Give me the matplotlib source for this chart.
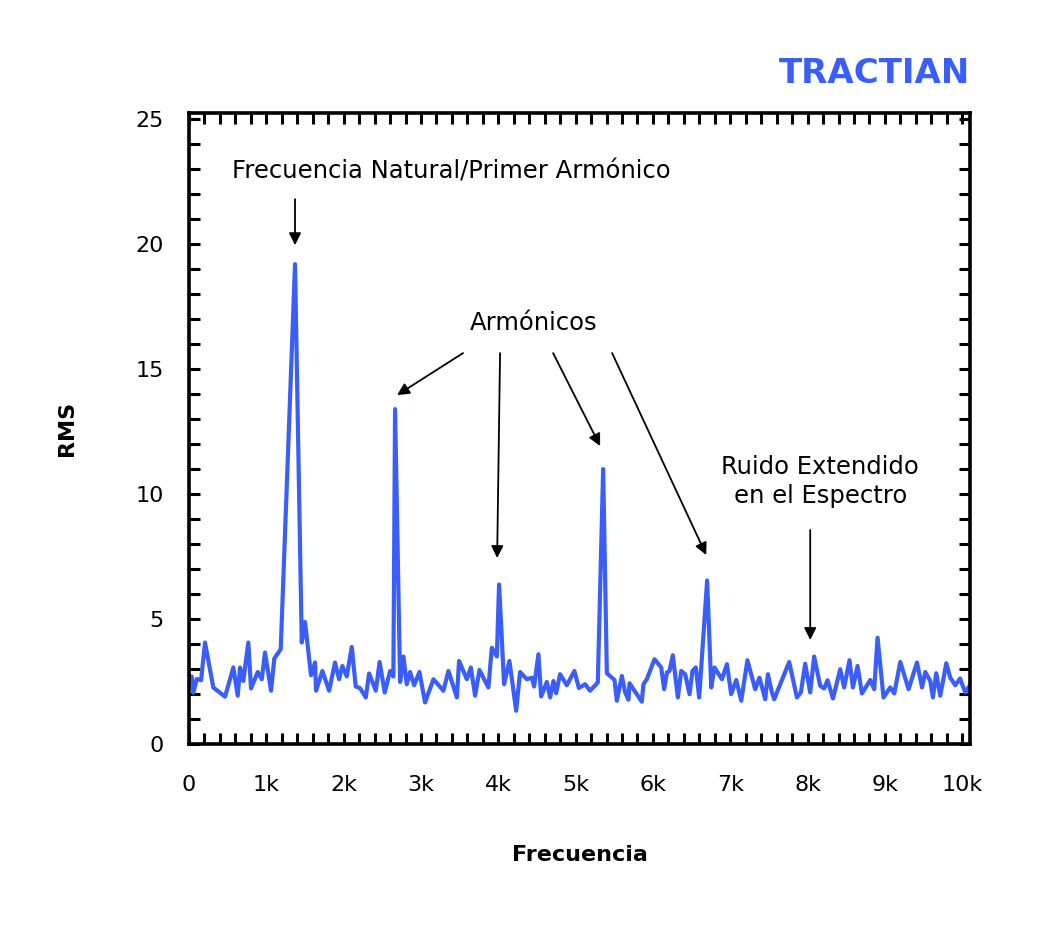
import numpy as np
import matplotlib
matplotlib.use("Agg")
import matplotlib.pyplot as plt
from matplotlib.ticker import MultipleLocator, FuncFormatter

# spectrum (Hz, RMS)
freq = [0, 35, 56, 100, 156, 207, 314, 466, 573, 630, 660, 702, 767, 802, 889, 941,
        983, 1061, 1103, 1186, 1371, 1458, 1500, 1578, 1630, 1643, 1725, 1812, 1888,
        1941, 1983, 2040, 2105, 2156, 2213, 2286, 2329, 2416, 2465, 2531, 2601, 2643,
        2665, 2730, 2773, 2816, 2859, 2911, 2980, 3053, 3161, 3290, 3355, 3464, 3493,
        3593, 3645, 3700, 3756, 3872, 3916, 3981, 4010, 4075, 4144, 4231, 4282, 4369,
        4434, 4463, 4519, 4554, 4628, 4670, 4713, 4748, 4799, 4886, 4984, 5042, 5123,
        5187, 5287, 5356, 5404, 5503, 5533, 5598, 5641, 5683, 5697, 5856, 5877, 5921,
        6020, 6107, 6145, 6181, 6214, 6257, 6322, 6366, 6417, 6473, 6511, 6555, 6598,
        6701, 6754, 6796, 6892, 6957, 7012, 7077, 7142, 7222, 7322, 7378, 7452, 7487,
        7539, 7568, 7762, 7862, 7913, 7969, 8034, 8085, 8163, 8215, 8258, 8328, 8422,
        8473, 8542, 8586, 8646, 8703, 8811, 8862, 8905, 8982, 9069, 9121, 9199, 9306,
        9415, 9480, 9522, 9587, 9621, 9664, 9716, 9794, 9845, 9910, 9972, 10039, 10100]
rms = [2.7, 2.7, 2.05, 2.6, 2.55, 4.06, 2.26, 1.89, 3.06, 1.93, 3.06, 2.52, 4.06, 2.22,
       2.88, 2.59, 3.66, 2.13, 3.42, 3.79, 19.2, 4.06, 4.88, 2.75, 3.26, 2.13, 2.92,
       2.13, 3.26, 2.59, 3.12, 2.70, 3.88, 2.30, 2.23, 1.86, 2.82, 2.13, 3.28, 2.06,
       2.92, 2.70, 13.4, 2.48, 3.50, 2.39, 2.88, 2.35, 2.88, 1.66, 2.59, 2.13, 2.92,
       1.86, 3.32, 2.59, 3.06, 1.93, 2.96, 2.26, 3.85, 3.50, 6.38, 2.39, 3.32, 1.33,
       2.88, 2.59, 2.65, 2.30, 3.59, 1.90, 2.48, 1.86, 2.52, 2.03, 2.79, 2.35, 2.92,
       2.24, 2.39, 2.13, 2.46, 11.0, 2.83, 2.56, 1.73, 2.72, 2.06, 1.77, 2.43, 1.69,
       2.39, 2.59, 3.39, 3.06, 2.19, 2.86, 2.92, 3.55, 1.86, 2.92, 2.79, 1.99, 2.92,
       3.06, 1.86, 6.54, 2.26, 3.06, 2.59, 3.19, 1.99, 2.56, 1.73, 3.35, 2.19, 2.65,
       1.79, 2.79, 2.06, 1.79, 3.28, 1.86, 2.06, 3.21, 2.06, 3.50, 2.33, 2.22, 2.55,
       1.82, 2.99, 2.26, 3.35, 2.26, 3.12, 2.02, 2.56, 2.19, 4.25, 1.86, 2.26, 2.02,
       3.28, 2.19, 3.26, 2.26, 2.88, 2.52, 1.86, 2.83, 1.93, 3.23, 2.65, 2.35, 2.62,
       2.06, 2.35]

blue = "#3a5efb"
plt.rcParams["font.family"] = ["DejaVu Sans"]

fig = plt.figure(figsize=(10.46, 9.26), dpi=100)
ax = fig.add_axes([0.1807, 0.1966, 0.7466, 0.6814])

ax.plot(freq, rms, color=blue, lw=3, solid_joinstyle="round")

ax.set_xlim(0, 10100)
ax.set_ylim(0, 25.25)
ax.xaxis.set_major_locator(MultipleLocator(1000))
ax.xaxis.set_minor_locator(MultipleLocator(200))
ax.yaxis.set_major_locator(MultipleLocator(5))
ax.yaxis.set_minor_locator(MultipleLocator(1))
ax.xaxis.set_major_formatter(FuncFormatter(lambda v, p: "0" if v == 0 else "%dk" % (v / 1000)))
ax.tick_params(which="both", direction="in", top=True, right=True,
               length=8, width=2.2, labelsize=16)
ax.tick_params(axis="x", which="major", pad=22)
ax.tick_params(axis="y", which="major", pad=18)
for s in ax.spines.values():
    s.set_linewidth(2.6)

ax.set_xlabel("Frecuencia", fontsize=16, fontweight="bold", labelpad=36)
ax.set_ylabel("RMS", fontsize=16, fontweight="bold", labelpad=42)

arrow = dict(arrowstyle="-|>", color="black", lw=1.3, mutation_scale=18, shrinkA=0, shrinkB=0)

ax.text(3390, 22.9, "Frecuencia Natural/Primer Armónico", fontsize=17.5,
        ha="center", va="center")
ax.annotate("", xy=(1371, 19.96), xytext=(1371, 21.8), arrowprops=arrow)

ax.text(4463, 16.85, "Armónicos", fontsize=17.5, ha="center", va="center")
ax.annotate("", xy=(2691, 13.96), xytext=(3544, 15.64), arrowprops=arrow)
ax.annotate("", xy=(3985, 7.44), xytext=(4023, 15.64), arrowprops=arrow)
ax.annotate("", xy=(5317, 11.92), xytext=(4709, 15.64), arrowprops=arrow)
ax.annotate("", xy=(6689, 7.56), xytext=(5472, 15.64), arrowprops=arrow)

ax.text(8163, 10.5, "Ruido Extendido\nen el Espectro", fontsize=17.5,
        ha="center", va="center", linespacing=1.25)
ax.annotate("", xy=(8034, 4.16), xytext=(8034, 8.56), arrowprops=arrow)

fig.text(0.927, 0.921, "TRACTIAN", color=blue, fontsize=24.5, fontweight="heavy",
         ha="right", va="center")

fig.savefig("out.png", dpi=100)
